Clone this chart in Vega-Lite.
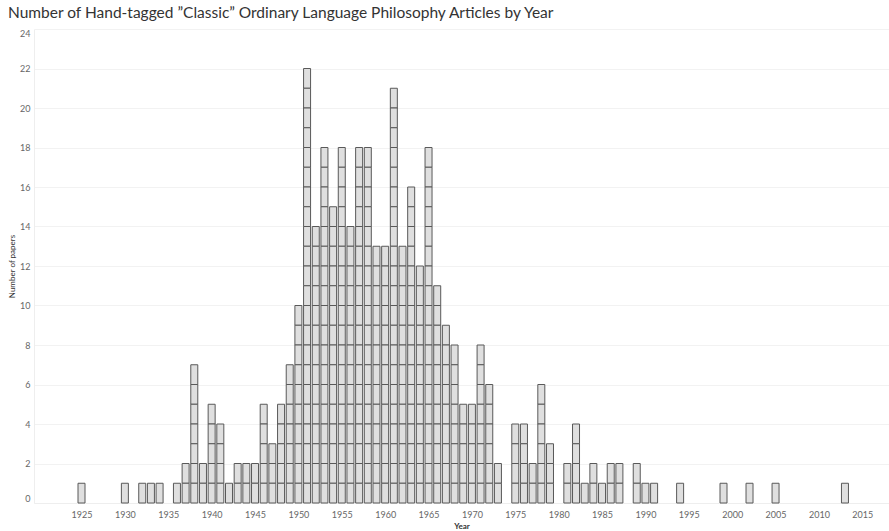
{
  "$schema": "https://vega.github.io/schema/vega-lite/v6.json",
  "width": 855,
  "height": 474,
  "autosize": "none",
  "padding": {"left": 34, "top": 29, "right": 0, "bottom": 28},
  "background": "white",
  "title": {
    "text": "Number of Hand-tagged ”Classic” Ordinary Language Philosophy Articles by Year",
    "anchor": "start",
    "frame": "group",
    "dx": -26,
    "offset": 8,
    "fontSize": 15.5,
    "font": "Lato",
    "fontWeight": "normal",
    "color": "#333333"
  },
  "data": {
    "values": "year\n1925\n1930\n1932\n1933\n1934\n1936\n1937\n1937\n1938\n1938\n1938\n1938\n1938\n1938\n1938\n1939\n1939\n1940\n1940\n1940\n1940\n1940\n1941\n1941\n1941\n1941\n1942\n1943\n1943\n1944\n1944\n1945\n1945\n1946\n1946\n1946\n1946\n1946\n1947\n1947\n1947\n1948\n1948\n1948\n1948\n1948\n1949\n1949\n1949\n1949\n1949\n1949\n1949\n1950\n1950\n1950\n1950\n1950\n1950\n1950\n1950\n1950\n1950\n1951\n1951\n1951\n1951\n1951\n1951\n1951\n1951\n1951\n1951\n1951\n1951\n1951\n1951\n1951\n1951\n1951\n1951\n1951\n1951\n1951\n1951\n1952\n1952\n1952\n1952\n1952\n1952\n1952\n1952\n1952\n1952\n1952\n1952\n1952\n1952\n1953\n1953\n1953\n1953\n1953\n1953\n1953\n1953\n1953\n1953\n1953\n1953\n1953\n1953\n1953\n1953\n1953\n1953\n1954\n1954\n1954\n1954\n1954\n1954\n1954\n1954\n1954\n1954\n1954\n1954\n1954\n1954\n1954\n1955\n1955\n1955\n1955\n1955\n1955\n1955\n1955\n1955\n1955\n1955\n1955\n1955\n1955\n1955\n1955\n1955\n1955\n1956\n1956\n1956\n1956\n1956\n1956\n1956\n1956\n1956\n1956\n1956\n1956\n1956\n1956\n1957\n1957\n1957\n1957\n1957\n1957\n1957\n1957\n1957\n1957\n1957\n1957\n1957\n1957\n1957\n1957\n1957\n1957\n1958\n1958\n1958\n1958\n1958\n1958\n1958\n1958\n1958\n1958\n1958\n1958\n1958\n1958\n1958\n1958\n1958\n1958\n1959\n1959\n1959\n1959\n1959\n1959\n1959\n1959\n1959\n1959\n1959\n1959\n1959\n1960\n1960\n1960\n1960\n1960\n1960\n1960\n1960\n1960\n1960\n1960\n1960\n1960\n1961\n1961\n1961\n1961\n1961\n1961\n1961\n1961\n1961\n1961\n1961\n1961\n1961\n1961\n1961\n1961\n1961\n1961\n1961\n1961\n1961\n1962\n1962\n1962\n1962\n1962\n1962\n1962\n1962\n1962\n1962\n1962\n1962\n1962\n1963\n1963\n1963\n1963\n1963\n1963\n1963\n1963\n1963\n1963\n1963\n1963\n1963\n1963\n1963\n1963\n1964\n1964\n1964\n1964\n1964\n1964\n1964\n1964\n1964\n1964\n1964\n1964\n1965\n1965\n1965\n1965\n1965\n1965\n1965\n1965\n1965\n1965\n1965\n1965\n1965\n1965\n1965\n1965\n1965\n1965\n1966\n1966\n1966\n1966\n1966\n1966\n1966\n1966\n1966\n1966\n1966\n1967\n1967\n1967\n1967\n1967\n1967\n1967\n1967\n1967\n1968\n1968\n1968\n1968\n1968\n1968\n1968\n1968\n1969\n1969\n1969\n1969\n1969\n1970\n1970\n1970\n1970\n1970\n1971\n1971\n1971\n1971\n1971\n1971\n1971\n1971\n1972\n1972\n1972\n1972\n1972\n1972\n1973\n1973\n1975\n1975\n1975\n1975\n1976\n1976\n1976\n1976\n1977\n1977\n1978\n1978\n1978\n1978\n1978\n1978\n1979\n1979\n1979\n1981\n1981\n1982\n1982\n1982\n1982\n1983\n1984\n1984\n1985\n1986\n1986\n1987\n1987\n1989\n1989\n1990\n1991\n1994\n1999\n2002\n2005\n2013\n",
    "format": {"type": "csv", "parse": {"year": "number"}}
  },
  "transform": [{"window": [{"op": "row_number", "as": "id"}]}],
  "mark": {"type": "bar", "size": 7, "fill": "#dfdfdf", "stroke": "#595959", "strokeWidth": 1},
  "encoding": {
    "x": {
      "field": "year",
      "type": "quantitative",
      "scale": {"domain": [1920.1, 2017.5], "nice": false, "zero": false},
      "axis": {
        "values": [1925, 1930, 1935, 1940, 1945, 1950, 1955, 1960, 1965, 1970, 1975, 1980, 1985, 1990, 1995, 2000, 2005, 2010, 2015],
        "format": "d",
        "title": "Year",
        "grid": false,
        "ticks": false,
        "domain": true,
        "domainColor": "#eeeeee",
        "labelFont": "Lato",
        "labelFontSize": 9,
        "labelColor": "#666666",
        "labelPadding": 7,
        "titleFont": "Lato",
        "titleFontSize": 8,
        "titleFontWeight": "bold",
        "titleColor": "#333333",
        "titleBaseline": "middle",
        "titleY": 23.5
      }
    },
    "y": {
      "aggregate": "count",
      "type": "quantitative",
      "stack": "zero",
      "scale": {"domain": [0, 24], "nice": false},
      "axis": {
        "values": [0, 2, 4, 6, 8, 10, 12, 14, 16, 18, 20, 22, 24],
        "title": "Number of papers",
        "grid": true,
        "gridColor": "#f2f2f2",
        "ticks": false,
        "domain": true,
        "domainColor": "#eeeeee",
        "labelFlush": true,
        "labelFont": "Lato",
        "labelFontSize": 9,
        "labelColor": "#666666",
        "labelPadding": 4,
        "titleFont": "Lato",
        "titleFontSize": 8,
        "titleFontWeight": "normal",
        "titleColor": "#333333",
        "titleX": -22,
        "titleY": 237,
        "titleAngle": 270,
        "titleAlign": "center",
        "titleBaseline": "middle"
      }
    },
    "detail": {"field": "id", "type": "nominal"}
  },
  "config": {"view": {"stroke": null}}
}
